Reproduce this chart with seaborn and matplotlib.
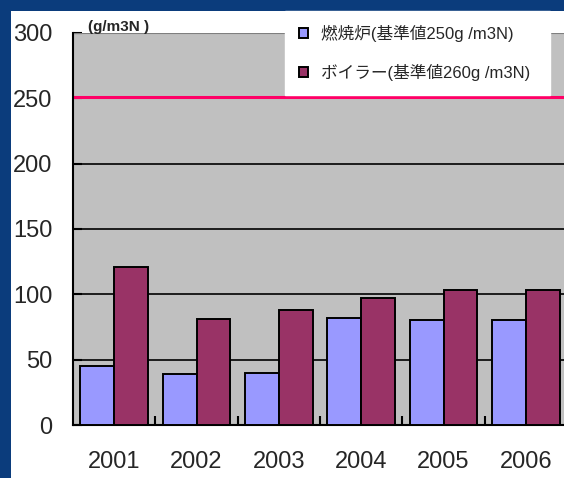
import matplotlib
matplotlib.use('Agg')
import matplotlib.pyplot as plt
from matplotlib.patches import Rectangle
from matplotlib.ticker import FixedLocator
from matplotlib.font_manager import FontProperties
import seaborn as sns
import pandas as pd

years = ['2001', '2002', '2003', '2004', '2005', '2006']
series = ['燃焼炉(基準値250g /m3N)', 'ボイラー(基準値260g /m3N)']
furnace = [45, 39, 40, 82, 80, 80]
boiler = [121, 81, 88, 97, 103, 103]
yticks = [0, 50, 100, 150, 200, 250, 300]
limit_line = 250
unit_label = '(g/m3N )'

df = pd.DataFrame({
    'year': years * 2,
    'value': furnace + boiler,
    'kind': [series[0]] * len(years) + [series[1]] * len(years),
})

sns.set_style('white')
plt.rcParams['font.family'] = ['Liberation Sans', 'Noto Sans CJK JP', 'DejaVu Sans']

W, H = 564, 478
fig = plt.figure(figsize=(W / 100, H / 100), dpi=100, facecolor='white')

# blue frame on top and left
fig.patches.append(Rectangle((0, 1 - 11 / H), 1, 11 / H, transform=fig.transFigure,
                             facecolor='#0b3c7c', edgecolor='none', zorder=0))
fig.patches.append(Rectangle((0, 0), 11 / W, 1, transform=fig.transFigure,
                             facecolor='#0b3c7c', edgecolor='none', zorder=0))

ax = fig.add_axes([73 / W, (H - 425) / H, 494 / W, 392 / H])
ax.set_facecolor('#C0C0C0')

sns.barplot(data=df, x='year', y='value', hue='kind', order=years, hue_order=series,
            palette=['#9999FF', '#993366'], width=0.82, edgecolor='black',
            linewidth=1.4, saturation=1, ax=ax, zorder=3)

for t in yticks[1:-1]:
    ax.axhline(t, color='black', lw=1.2, zorder=1)
ax.axhline(yticks[-1], color='#7f7f7f', lw=0.8, zorder=1)
ax.axhline(limit_line + 1.2, color='#FF0066', lw=2.2, zorder=2)

ax.set_xlim(-0.5, 5.5)
ax.set_ylim(0, 300)
ax.set_yticks(yticks)
ax.set_xlabel('')
ax.set_ylabel('')

ax.spines['top'].set_visible(False)
ax.spines['right'].set_visible(False)
ax.spines['left'].set_linewidth(1.5)
ax.spines['bottom'].set_linewidth(1.5)
ax.spines['left'].set_color('black')
ax.spines['bottom'].set_color('black')

ax.xaxis.set_minor_locator(FixedLocator([0.5, 1.5, 2.5, 3.5, 4.5]))
ax.tick_params(axis='x', which='major', length=0, pad=19, labelsize=17)
ax.tick_params(axis='x', which='minor', direction='in', length=6.5, width=1.5, color='black', bottom=True)
ax.tick_params(axis='y', direction='in', length=6.5, width=1.5, color='black', pad=15, labelsize=17, left=True)

handles, labels = ax.get_legend_handles_labels()
ax.get_legend().remove()
leg = fig.legend(handles, labels, loc='upper left',
                 bbox_to_anchor=(285 / W, 1 - 94 / H, 265 / W, 83 / H), mode='expand',
                 prop=FontProperties(family=['Liberation Sans', 'Noto Sans CJK JP'], size=12),
                 frameon=True, fancybox=False, framealpha=1, facecolor='white', edgecolor='white',
                 handlelength=0.55, handleheight=0.55, handletextpad=0.75, labelspacing=1.3,
                 borderpad=0.85, borderaxespad=0)

fig.text(88 / W, 1 - 27 / H, unit_label, fontsize=11, fontweight='bold', va='center', ha='left')

plt.savefig('out.png', dpi=100)
